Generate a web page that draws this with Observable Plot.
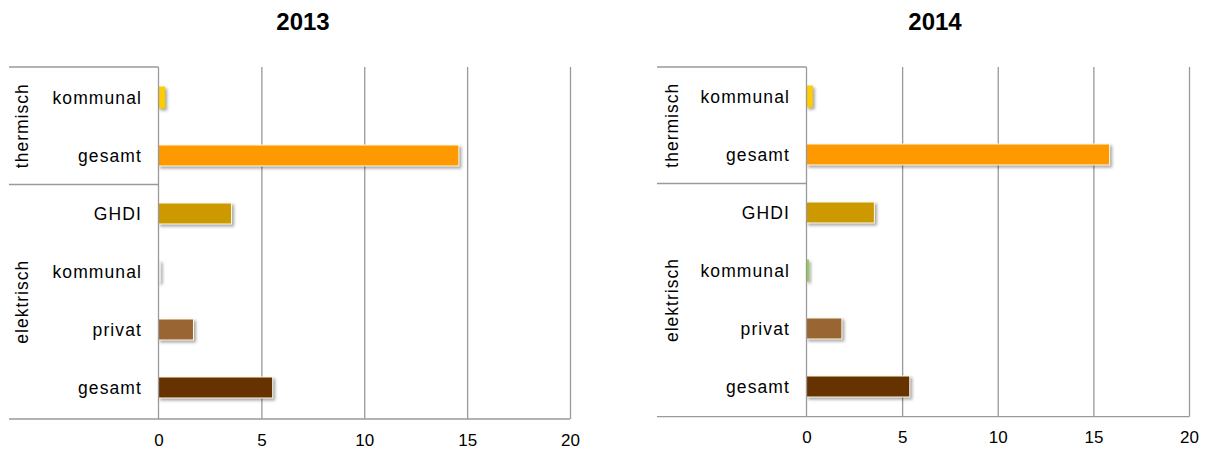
<!DOCTYPE html>
<html>
<head>
<meta charset="utf-8">
<script src="https://cdn.jsdelivr.net/npm/d3@7"></script>
<script src="https://cdn.jsdelivr.net/npm/@observablehq/plot@0.6"></script>
<style>
  html, body { margin: 0; padding: 0; background: #fff; }
  #wrap { position: relative; width: 1211px; height: 454px; overflow: hidden; font-family: "Liberation Sans", Arial, sans-serif; }
  .title { position: absolute; top: 10px; transform: translateX(-50%); font-weight: bold; font-size: 24px; line-height: 24px; color: #000; }
  .panel { position: absolute; top: 50px; }
  .panel svg { overflow: visible; }
  .panel g[aria-label^="y-axis"] text { letter-spacing: 1.1px; font-size: 17.5px; }
  .panel g[aria-label^="bar"] rect { filter: drop-shadow(2px 2px 1.5px rgba(0,0,0,0.35)); }
</style>
</head>
<body>
<div id="wrap"></div>
<script>
// ---- data ----
const years = ["2013", "2014"];
const groups = ["thermisch", "thermisch", "elektrisch", "elektrisch", "elektrisch", "elektrisch"];
const categories = ["kommunal", "gesamt", "GHDI", "kommunal", "privat", "gesamt"];
const values2013 = [0.3, 14.6, 3.55, 0.08, 1.7, 5.55];
const values2014 = [0.3, 15.85, 3.55, 0.1, 1.85, 5.4];
const colors2013 = ["#FFCC00", "#FF9900", "#CC9900", "#F2F2F2", "#996633", "#663300"];
const colors2014 = ["#FFCC00", "#FF9900", "#CC9900", "#92D050", "#996633", "#663300"];
const xDomain = [0, 20];
const xTickCount = 4;

const keys = categories.map((c, i) => groups[i] + "|" + c);
const groupNames = ["thermisch", "elektrisch"];

function frameMark(lineStart, labelX) {
  return (index, scales, values, dimensions) => {
    const top = dimensions.marginTop;
    const bottom = dimensions.height - dimensions.marginBottom;
    const right = dimensions.width - dimensions.marginRight;
    const y = scales.y;
    const x0 = scales.x(0);
    let bw = (y.bandwidth ? y.bandwidth() : 0);
    const sep = ((y(keys[1]) + bw) + y(keys[2])) / 2;
    const g = d3.create("svg:g");
    const line = (x1, y1, x2, y2) => g.append("line")
      .attr("x1", x1).attr("y1", y1).attr("x2", x2).attr("y2", y2)
      .attr("stroke", "#9a9a9a").attr("stroke-width", 1.3);
    line(lineStart, top, x0, top);
    line(lineStart, sep, x0, sep);
    line(lineStart, bottom, right, bottom);
    line(x0, top, x0, bottom);
    const centers = [(top + sep) / 2, (sep + bottom) / 2];
    groupNames.forEach((name, i) => {
      g.append("text")
        .attr("transform", `translate(${labelX},${centers[i]}) rotate(-90)`)
        .attr("text-anchor", "middle")
        .attr("dy", "0.35em")
        .attr("fill", "#000")
        .style("font-size", "17.5px")
        .style("letter-spacing", "1px")
        .text(name);
    });
    return g.node();
  };
}

function panel(values, colors, opts) {
  const rows = keys.map((k, i) => ({key: k, value: values[i], color: colors[i]}));
  return Plot.plot({
    width: opts.width,
    height: opts.height,
    marginLeft: opts.marginLeft,
    marginRight: opts.marginRight,
    marginTop: opts.marginTop,
    marginBottom: opts.marginBottom,
    style: {fontFamily: "Liberation Sans, Arial, sans-serif", fontSize: "17px", color: "#000", background: "transparent"},
    x: {domain: xDomain, ticks: xTickCount, tickSize: 0, tickPadding: 14, label: null, tickFormat: d => String(d)},
    y: {domain: keys, paddingInner: 0.63, paddingOuter: 0.315, label: null, tickSize: 0, tickPadding: 17,
        tickFormat: k => k.split("|")[1]},
    marks: [
      Plot.ruleX(d3.ticks(xDomain[0], xDomain[1], xTickCount).filter(d => d > 0), {stroke: "#9a9a9a", strokeWidth: 1.3}),
      Plot.barX(rows, {x: "value", y: "key", fill: "color",
        stroke: d => d.value < 0.5 ? d.color : "#fffbea", strokeWidth: 1}),
      frameMark(opts.lineStart, opts.labelX)
    ]
  });
}

const wrap = document.getElementById("wrap");

const specs = [
  {values: values2013, colors: colors2013, left: 0, titleX: 303,
   opts: {width: 605, height: 404, marginLeft: 158.5, marginRight: 35, marginTop: 17, marginBottom: 35, lineStart: 9, labelX: 22}},
  {values: values2014, colors: colors2014, left: 650, titleX: 935,
   opts: {width: 561, height: 404, marginLeft: 156.5, marginRight: 22, marginTop: 17, marginBottom: 37.3, lineStart: 7, labelX: 22}}
];

specs.forEach((s, i) => {
  const t = document.createElement("div");
  t.className = "title";
  t.style.left = s.titleX + "px";
  t.textContent = years[i];
  wrap.appendChild(t);
  const d = document.createElement("div");
  d.className = "panel";
  d.style.left = s.left + "px";
  d.appendChild(panel(s.values, s.colors, s.opts));
  wrap.appendChild(d);
});
</script>
</body>
</html>
